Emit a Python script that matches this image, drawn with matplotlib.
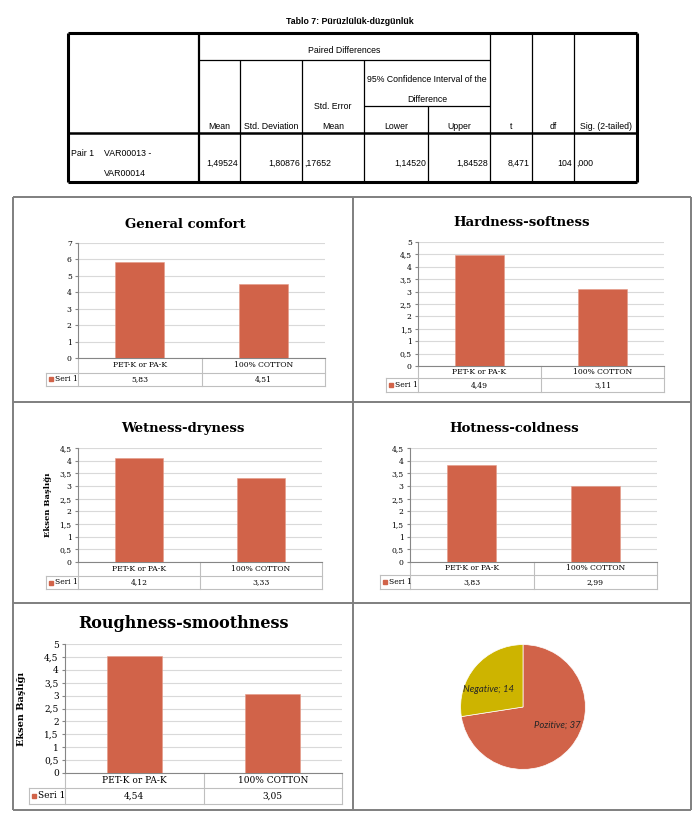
import numpy as np
import matplotlib
matplotlib.use("Agg")
import matplotlib.pyplot as plt
from matplotlib import transforms

plt.rcParams['font.family'] = 'DejaVu Serif'

# ---- data ----
tbl_title = "Tablo 7: Pürüzlülük-düzgünlük"
tbl_group = "Paired Differences"
tbl_ci = ["95% Confidence Interval of the", "Difference"]
tbl_heads = ["Mean", "Std. Deviation", "Mean", "Lower", "Upper", "t", "df", "Sig. (2-tailed)"]
tbl_pair = ["Pair 1", "VAR00013 -", "VAR00014"]
tbl_values = ["1,49524", "1,80876", ",17652", "1,14520", "1,84528", "8,471", "104", ",000"]

categories = ["PET-K or PA-K", "100% COTTON"]
series_name = "Seri 1"
general_comfort = [5.83, 4.51]
hardness_softness = [4.49, 3.11]
wetness_dryness = [4.12, 3.33]
hotness_coldness = [3.83, 2.99]
roughness_smoothness = [4.54, 3.05]

pie_labels = ["Pozitive", "Negative"]
pie_values = [37, 14]

BAR = '#D16349'
YEL = '#CDB400'
GRID = '#D9D9D9'
CELL = '#BFBFBF'
AXC = '#868686'
W, H = 700, 827

fig = plt.figure(figsize=(7, 8.27), dpi=100)

# overlay in pixel coords for table and panel frames
ov = fig.add_axes([0, 0, 1, 1])
ov.set_xlim(0, W)
ov.set_ylim(H, 0)
ov.axis('off')


def hline(y, xa, xb, lw=0.9, c='k'):
    ov.plot([xa, xb], [y, y], color=c, lw=lw, solid_capstyle='butt')


def vline(x, ya, yb, lw=0.9, c='k'):
    ov.plot([x, x], [ya, yb], color=c, lw=lw, solid_capstyle='butt')


def comma(v):
    return ("%g" % v).replace('.', ',')


# ---- SPSS table ----
sans = 'Liberation Sans'
tfs = 6.3
ov.text(350, 22, tbl_title, ha='center', va='center', fontsize=6.3,
        fontweight='bold', family=sans)
cols = [68, 199, 240, 302, 364, 428, 490, 532, 574, 637]
top, bot = 33, 182
hline(top, 68, 637, 2.2)
hline(bot, 68, 637, 2.2)
vline(68, top, bot, 2.2)
vline(637, top, bot, 2.2)
hline(60, 199, 490)
hline(106, 364, 490)
hline(133, 68, 637, 1.8)
vline(199, top, bot, 1.6)
for x in [240, 302, 364]:
    vline(x, 60, bot)
vline(428, 106, bot)
for x in [490, 532, 574]:
    vline(x, top, bot)

ov.text((199 + 490) / 2, 53, tbl_group, ha='center', va='baseline', fontsize=tfs, family=sans)
ov.text((364 + 490) / 2, 82, tbl_ci[0], ha='center', va='baseline', fontsize=tfs, family=sans)
ov.text((364 + 490) / 2, 102, tbl_ci[1], ha='center', va='baseline', fontsize=tfs, family=sans)
ov.text((302 + 364) / 2, 109, "Std. Error", ha='center', va='baseline', fontsize=tfs, family=sans)
for i, h in enumerate(tbl_heads):
    ov.text((cols[i + 1] + cols[i + 2]) / 2, 129, h, ha='center', va='baseline',
            fontsize=tfs, family=sans)
ov.text(71, 156, tbl_pair[0], ha='left', va='baseline', fontsize=tfs, family=sans)
ov.text(104, 156, tbl_pair[1], ha='left', va='baseline', fontsize=tfs, family=sans)
ov.text(104, 176, tbl_pair[2], ha='left', va='baseline', fontsize=tfs, family=sans)
for i, v in enumerate(tbl_values):
    if v.startswith(','):
        ov.text(cols[i + 1] + 2, 166, v, ha='left', va='baseline', fontsize=tfs, family=sans)
    else:
        ov.text(cols[i + 2] - 2, 166, v, ha='right', va='baseline', fontsize=tfs, family=sans)

# ---- panel frames ----
FR = '#7F7F7F'
hline(197, 13, 691, 1.4, FR)
hline(402, 13, 691, 1.4, FR)
hline(603, 13, 691, 1.4, FR)
hline(810, 13, 691, 1.4, FR)
vline(13, 197, 810, 1.4, FR)
vline(353, 197, 810, 1.4, FR)
vline(691, 197, 810, 1.4, FR)


def bar_panel(box, values, title, title_xy, ymax, step, rows, leg_left,
              fs=5.5, title_fs=9.5, ylabel=None, ylabel_x=None):
    x0, y0, x1, y1 = box
    ax = fig.add_axes([x0 / W, 1 - y1 / H, (x1 - x0) / W, (y1 - y0) / H])
    xs = np.arange(len(values))
    ax.bar(xs, values, width=0.4, color=BAR, edgecolor='#E49A88', lw=0.4, zorder=3)
    ax.set_xlim(-0.5, len(values) - 0.5)
    ax.set_ylim(0, ymax)
    yt = np.arange(0, ymax + step / 2, step)
    ax.set_yticks(yt)
    ax.set_yticklabels([comma(v) for v in yt], fontsize=fs)
    ax.set_xticks([])
    ax.grid(axis='y', color=GRID, lw=0.8)
    ax.set_axisbelow(True)
    ax.tick_params(axis='y', length=2.5, color=AXC, pad=2)
    for s in ['top', 'right']:
        ax.spines[s].set_visible(False)
    ax.spines['left'].set_color(AXC)
    ax.spines['bottom'].set_color(AXC)
    ax.spines['left'].set_linewidth(0.8)
    ax.spines['bottom'].set_linewidth(0.8)

    h = y1 - y0
    w = x1 - x0
    f1 = -(rows[0] - y1) / h
    f2 = -(rows[1] - y1) / h
    lf = (leg_left - x0) / w
    trans = transforms.blended_transform_factory(ax.transData, ax.transAxes)
    for xb in np.arange(-0.5, len(values), 1.0):
        ax.plot([xb, xb], [0, f2], color=CELL, lw=0.8, transform=trans, clip_on=False)
    ax.plot([lf, 1], [f1, f1], color=CELL, lw=0.8, transform=ax.transAxes, clip_on=False)
    ax.plot([lf, 1], [f2, f2], color=CELL, lw=0.8, transform=ax.transAxes, clip_on=False)
    ax.plot([lf, lf], [f1, f2], color=CELL, lw=0.8, transform=ax.transAxes, clip_on=False)
    for i, (c, v) in enumerate(zip(categories, values)):
        ax.text(i, f1 / 2, c, ha='center', va='center', fontsize=fs, transform=trans)
        ax.text(i, (f1 + f2) / 2, ("%.2f" % v).replace('.', ','), ha='center',
                va='center', fontsize=fs, transform=trans)
    ym = (f1 + f2) / 2
    ax.plot([lf + 5 / w], [ym], marker='s', ms=3.3, color=BAR, lw=0,
            transform=ax.transAxes, clip_on=False)
    ax.text(lf + 9 / w, ym, series_name, ha='left', va='center', fontsize=fs,
            transform=ax.transAxes)

    fig.text(title_xy[0] / W, 1 - title_xy[1] / H, title, ha='center', va='center',
             fontsize=title_fs, fontweight='bold')
    if ylabel:
        fig.text(ylabel_x / W, 1 - (y0 + y1) / 2 / H, ylabel, rotation=90, ha='center',
                 va='center', fontsize=fs + 0.5, fontweight='bold')
    return ax


bar_panel((78, 243, 325, 358), general_comfort, "General comfort", (185, 224),
          7, 1, (373, 386), 46)
bar_panel((418, 242, 664, 366), hardness_softness, "Hardness-softness", (522, 223),
          5, 0.5, (378, 392), 386)
bar_panel((78, 448, 322, 562), wetness_dryness, "Wetness-dryness", (183, 428),
          4.5, 0.5, (576, 589), 46, ylabel="Eksen Başlığı", ylabel_x=48)
bar_panel((410, 448, 657, 562), hotness_coldness, "Hotness-coldness", (514, 428),
          4.5, 0.5, (575, 589), 380)
bar_panel((65, 644, 342, 773), roughness_smoothness, "Roughness-smoothness", (183, 623),
          5, 0.5, (788, 804), 29, fs=6.5, title_fs=11.5,
          ylabel="Eksen Başlığı", ylabel_x=22)

# ---- pie ----
cx, cy, r = 523, 707, 78
axp = fig.add_axes([(cx - r) / W, 1 - (cy + r) / H, 2 * r / W, 2 * r / H])
wedges, _ = axp.pie(pie_values, colors=[BAR, YEL], startangle=90, counterclock=False,
                    wedgeprops=dict(edgecolor='white', lw=0.5))
axp.set_aspect('equal')
label_turn = 13  # degrees, Excel's best-fit places labels a bit off the mid-angle
for wdg, lab, val in zip(wedges, pie_labels, pie_values):
    ang = np.deg2rad((wdg.theta1 + wdg.theta2) / 2 + label_turn)
    axp.text(0.62 * np.cos(ang), 0.62 * np.sin(ang), "%s; %d" % (lab, val),
             ha='center', va='center', fontsize=6.8, style='italic', family='Lato',
             color='#262626')

fig.savefig("out.png", dpi=100)
